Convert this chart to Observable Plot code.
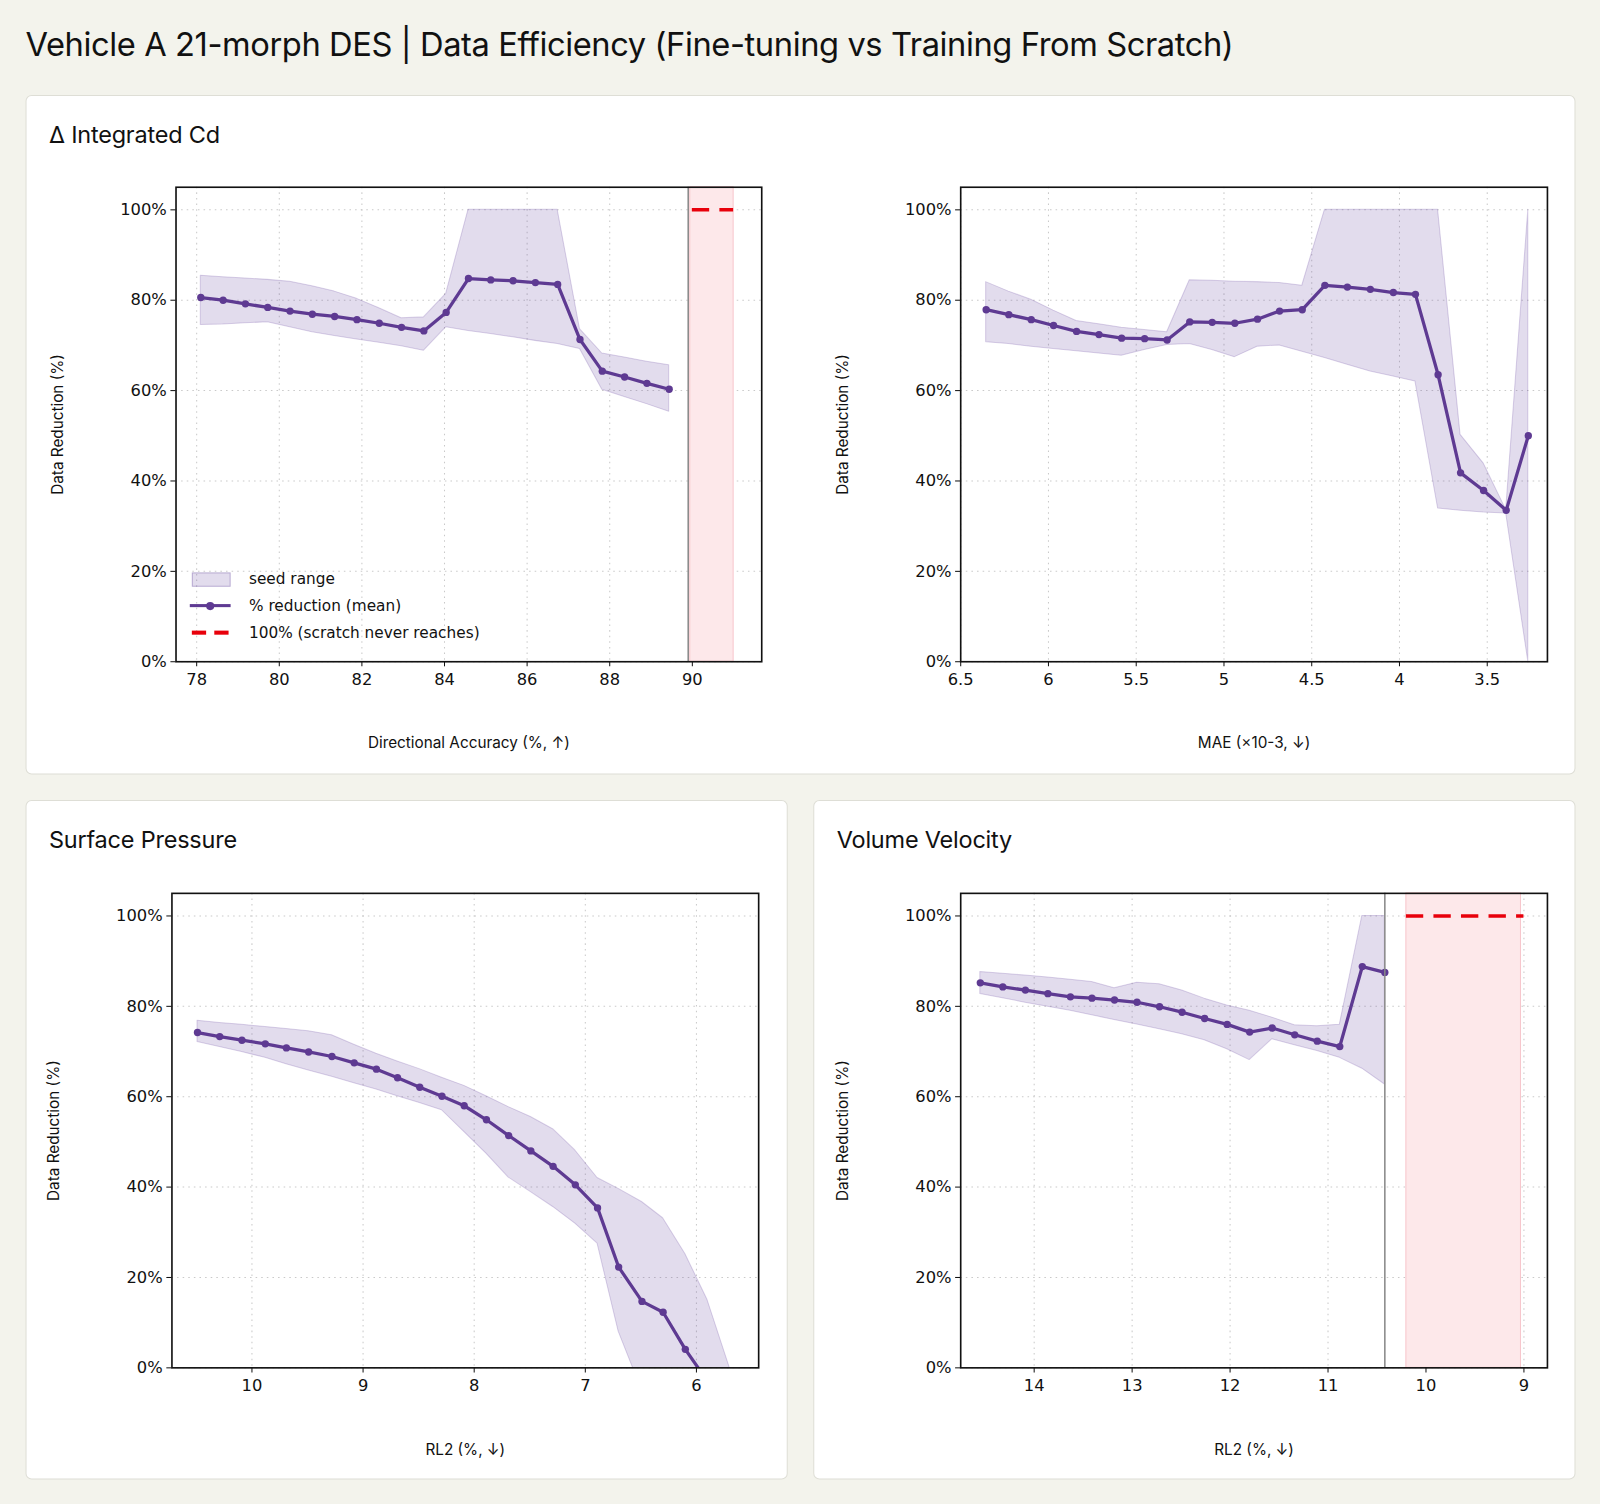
<!DOCTYPE html>
<html>
<head>
<meta charset="utf-8">
<script src="https://cdn.jsdelivr.net/npm/d3@7"></script>
<script src="https://cdn.jsdelivr.net/npm/@observablehq/plot@0.6"></script>
<style>
  body { margin: 0; background: #f3f3ec; width: 1600px; height: 1504px; overflow: hidden; font-family: Inter, "Noto Sans", sans-serif; }
  #page { position: absolute; left: 0; top: 0; width: 1568px; height: 1474px; transform: scale(1.0204); transform-origin: 0 0; }
  h1 { position: absolute; left: 25px; top: 24px; margin: 0; font-size: 32px; font-weight: 400; color: #111; letter-spacing: -0.4px; }
  .card { position: absolute; background: #fff; border: 1px solid #deded6; border-radius: 6px; }
  .card h2 { position: absolute; left: 22px; top: 24px; margin: 0; font-size: 23px; font-weight: 400; color: #111; letter-spacing: -0.2px; }
  .chart { position: absolute; }
  .legend { position: absolute; font-family: "DejaVu Sans", sans-serif; font-size: 15px; color: #111; }
  .legend div { height: 26.5px; display: flex; align-items: center; }
  .legend .sw { width: 40px; height: 18px; margin-right: 18px; position: relative; }
</style>
</head>
<body>
<div id="page">
<h1>Vehicle A 21-morph DES | Data Efficiency (Fine-tuning vs Training From Scratch)</h1>
<div class="card" style="left:25px;top:93px;width:1517px;height:664px"><h2>Δ Integrated Cd</h2></div>
<div class="card" style="left:25px;top:784px;width:745px;height:664px"><h2>Surface Pressure</h2></div>
<div class="card" style="left:797px;top:784px;width:745px;height:664px"><h2>Volume Velocity</h2></div>
<div id="c1" class="chart" style="left:40px;top:165px"></div>
<div id="c2" class="chart" style="left:810px;top:165px"></div>
<div id="c3" class="chart" style="left:40px;top:857px"></div>
<div id="c4" class="chart" style="left:810px;top:857px"></div>
<div class="legend" style="left:186px;top:554px">
  <div><span class="sw"><span style="position:absolute;left:2px;top:3px;width:36px;height:12px;background:rgba(94,60,153,0.18);border:1px solid rgba(94,60,153,0.3)"></span></span>seed range</div>
  <div><span class="sw"><span style="position:absolute;left:0;top:7px;width:40px;height:3.5px;background:#5e3a92"></span><span style="position:absolute;left:16px;top:5px;width:8px;height:8px;border-radius:50%;background:#5e3a92"></span></span>% reduction (mean)</div>
  <div><span class="sw"><span style="position:absolute;left:2px;top:7px;width:14px;height:4px;background:#e8000b"></span><span style="position:absolute;left:24px;top:7px;width:14px;height:4px;background:#e8000b"></span></span>100% (scratch never reaches)</div>
</div>
</div>
<script>
// Δ Integrated Cd — directional accuracy
const cdX = [78.1,78.64,79.18,79.72,80.26,80.8,81.34,81.88,82.42,82.96,83.5,84.04,84.58,85.12,85.66,86.2,86.74,87.28,87.82,88.36,88.9,89.44];
const cdMean = [80.6,80.0,79.2,78.4,77.6,76.9,76.4,75.7,74.9,74.0,73.2,77.3,84.8,84.5,84.3,83.9,83.5,71.3,64.3,63.0,61.6,60.3];
const cdHi = [85.4,85.1,84.8,84.5,84.1,83.1,81.9,80.3,78.2,76.0,76.2,81.4,100,100,100,100,100,73.6,68.2,67.3,66.4,65.6];
const cdLo = [74.5,74.6,74.9,75.1,74.0,72.9,72.1,71.3,70.6,69.8,68.8,74.0,73.2,72.5,71.8,71.0,70.3,69.2,60.2,58.6,57.0,55.3];

// MAE
const maeX = [6.355,6.226,6.098,5.971,5.84,5.712,5.583,5.452,5.324,5.195,5.067,4.938,4.809,4.683,4.554,4.425,4.297,4.166,4.035,3.909,3.78,3.652,3.521,3.392,3.266];
const maeMean = [77.9,76.8,75.7,74.4,73.1,72.4,71.6,71.5,71.2,75.2,75.1,74.9,75.8,77.6,77.9,83.3,82.9,82.4,81.7,81.3,63.5,41.8,37.9,33.5,50.0];
const maeHi = [84.0,81.9,80.1,77.7,75.4,74.7,73.9,73.4,72.9,84.4,84.3,84.1,84.0,83.8,83.2,100,100,100,100,100,100,50.2,43.9,33.6,100];
const maeLo = [70.7,70.3,69.7,69.2,68.7,68.2,67.7,69.0,70.1,70.3,69.0,67.4,69.7,70.0,68.6,67.2,65.7,64.2,63.1,62.0,33.9,33.4,33.0,32.8,0];

// Surface Pressure — RL2
const spX = [10.49,10.29,10.09,9.88,9.69,9.49,9.28,9.08,8.88,8.69,8.49,8.29,8.09,7.89,7.69,7.49,7.29,7.09,6.89,6.70,6.49,6.30,6.10,5.90,5.70];
const spMean = [74.2,73.3,72.5,71.7,70.8,69.9,68.9,67.5,66.1,64.2,62.1,60.1,58.0,54.9,51.4,48.0,44.6,40.5,35.4,22.3,14.7,12.3,4.1,-3,-10];
const spHi = [76.8,76.3,75.9,75.4,75.0,74.5,73.6,71.5,69.5,67.8,66.1,64.2,62.4,60.1,57.7,55.5,52.8,48.1,42.0,39.6,36.7,33.1,25.2,15.0,0];
const spLo = [72.1,71.0,69.9,68.6,67.2,65.8,64.4,63.0,61.6,60.1,58.6,57.0,52.2,47.4,42.1,38.9,35.6,31.9,27.5,8.0,-5,-10,-15,-20,-25];

// Volume Velocity — RL2
const vvX = [14.55,14.32,14.09,13.86,13.63,13.41,13.18,12.95,12.72,12.49,12.26,12.03,11.80,11.57,11.34,11.11,10.88,10.65,10.42];
const vvMean = [85.2,84.3,83.6,82.8,82.1,81.8,81.4,80.9,79.9,78.7,77.3,76.0,74.3,75.2,73.7,72.3,71.1,88.8,87.5];
const vvHi = [87.6,87.2,86.8,86.4,85.9,85.4,84.0,85.2,84.9,83.5,81.7,80.2,79.0,77.5,75.8,75.6,75.9,100,100];
const vvLo = [82.7,81.8,80.8,79.9,79.0,78.0,77.0,76.0,74.9,73.8,72.5,70.5,68.1,72.7,71.4,70.1,68.6,66.2,62.7];

const yTicks = [0,20,40,60,80,100];
const purple = "#5e3a92";

function rows(xs, m, lo, hi) {
  return xs.map((x, i) => ({x, mean: m[i], lo: lo[i], hi: hi[i]}));
}

function panel(el, cfg) {
  const data = rows(cfg.x, cfg.mean, cfg.lo, cfg.hi);
  const marks = [
    Plot.gridX(cfg.xTicks, {stroke: "#bbb", strokeOpacity: 0.8, strokeDasharray: "1.5,4"}),
    Plot.gridY(yTicks, {stroke: "#bbb", strokeOpacity: 0.8, strokeDasharray: "1.5,4"})
  ];
  if (cfg.band) {
    marks.push(Plot.rect([cfg.band], {x1: "a", x2: "b", fill: "#fde8ea", stroke: "#f7c6cc", strokeWidth: 1}));
  }
  marks.push(
    Plot.areaY(data, {x: "x", y1: "lo", y2: "hi", fill: "#5e3c99", fillOpacity: 0.18, stroke: "#5e3c99", strokeOpacity: 0.22, clip: true}),
    Plot.line(data, {x: "x", y: "mean", stroke: purple, strokeWidth: 3.2, clip: true}),
    Plot.dot(data, {x: "x", y: "mean", fill: purple, r: 3.6, clip: true})
  );
  if (cfg.wall != null) marks.push(Plot.ruleX([cfg.wall], {stroke: "#888", strokeWidth: 1.5}));
  if (cfg.dash) marks.push(Plot.ruleY([100], {x1: cfg.dash[0], x2: cfg.dash[1], stroke: "#e8000b", strokeWidth: 3.5, strokeDasharray: "17,10"}));
  marks.push(
    Plot.axisY(yTicks, {tickFormat: d => d + "%", tickSize: 5, tickPadding: 4, fontSize: 16, label: "Data Reduction (%)", labelAnchor: "center", labelArrow: "none", labelOffset: 121}),
    Plot.axisX(cfg.xTicks, {tickFormat: d3.format("~g"), tickSize: 5, tickPadding: 6, fontSize: 16, label: cfg.label, labelAnchor: "center", labelArrow: "none", labelOffset: 85}),
    Plot.frame({stroke: "#111", strokeWidth: 1.6})
  );
  const chart = Plot.plot({
    width: 720,
    height: 590,
    marginTop: 18,
    marginBottom: 107,
    marginLeft: cfg.ml,
    marginRight: cfg.mr,
    style: {fontFamily: "'DejaVu Sans', sans-serif", color: "#111", background: "transparent", overflow: "visible"},
    x: {domain: cfg.domain},
    y: {domain: [0, 105]},
    marks
  });
  chart.querySelectorAll("[aria-label='x-axis label'] text, [aria-label='y-axis label'] text").forEach(t => {
    t.style.fontFamily = "Inter, sans-serif"; t.style.fontSize = "15px";
  });
  d3.select(el).append(() => chart);
}

panel("#c1", {x: cdX, mean: cdMean, lo: cdLo, hi: cdHi, domain: [77.5, 91.68], xTicks: [78,80,82,84,86,88,90],
  label: "Directional Accuracy (%, ↑)", ml: 132, mr: 14, band: {a: 89.95, b: 91.0}, wall: 89.9, dash: [90, 91]});
panel("#c2", {x: maeX, mean: maeMean, lo: maeLo, hi: maeHi, domain: [6.5, 3.157], xTicks: [6.5,6,5.5,5,4.5,4,3.5],
  label: "MAE (×10-3, ↓)", ml: 131, mr: 14});
panel("#c3", {x: spX, mean: spMean, lo: spLo, hi: spHi, domain: [10.72, 5.44], xTicks: [10,9,8,7,6],
  label: "RL2 (%, ↓)", ml: 128, mr: 17});
panel("#c4", {x: vvX, mean: vvMean, lo: vvLo, hi: vvHi, domain: [14.75, 8.76], xTicks: [14,13,12,11,10,9],
  label: "RL2 (%, ↓)", ml: 131, mr: 14, band: {a: 10.2, b: 9.03}, wall: 10.42, dash: [10.2, 9.0]});
</script>
</body>
</html>
